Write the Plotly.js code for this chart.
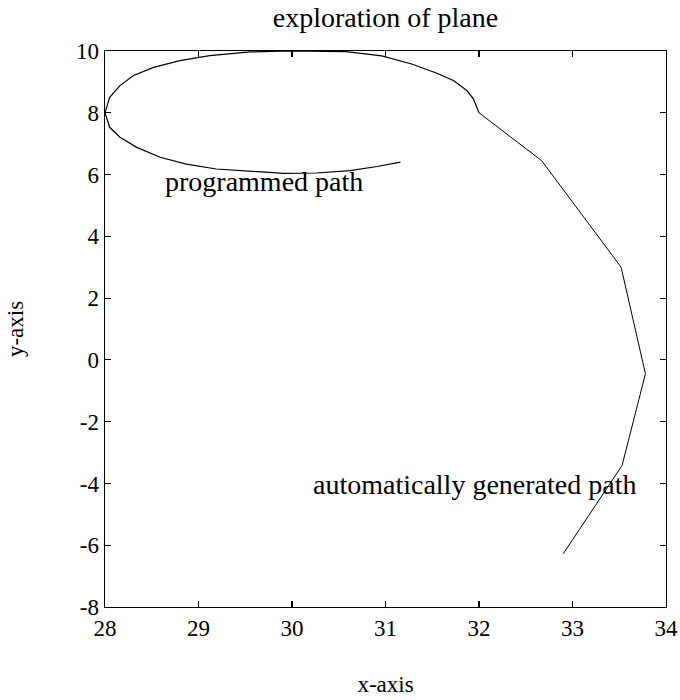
<!DOCTYPE html>
<html>
<head>
<meta charset="utf-8">
<script src="https://cdn.plot.ly/plotly-3.0.1.min.js"></script>
<style>html,body{margin:0;padding:0;background:#fff;}#chart{width:680px;height:700px;}</style>
</head>
<body>
<div id="chart"></div>
<script>
// Programmed path (spiral-like loop)
var progX = [31.16, 30.91, 30.62, 30.26, 29.91, 29.60, 29.19, 28.87, 28.59, 28.34, 28.16, 28.05, 28.00,
             28.05, 28.16, 28.30, 28.52, 28.80, 29.12, 29.55, 29.98, 30.58, 30.96, 31.28, 31.55, 31.73,
             31.87, 31.94, 32.00];
var progY = [6.40, 6.26, 6.13, 6.05, 6.04, 6.09, 6.18, 6.34, 6.56, 6.88, 7.21, 7.53, 8.00,
             8.50, 8.88, 9.20, 9.47, 9.69, 9.85, 9.97, 10.00, 9.98, 9.84, 9.58, 9.28, 9.04,
             8.72, 8.45, 8.00];
// Automatically generated path
var autoX = [32.00, 32.67, 33.52, 33.78, 33.53, 32.90];
var autoY = [8.00, 6.45, 3.00, -0.45, -3.42, -6.28];

var xTicks = [28, 29, 30, 31, 32, 33, 34];
var yTicks = [-8, -6, -4, -2, 0, 2, 4, 6, 8, 10];

var titleText = "exploration of plane";
var xTitle = "x-axis";
var yTitle = "y-axis";
var labelProg = "programmed path";
var labelAuto = "automatically generated path";

var FONT = "Liberation Serif, Times New Roman, serif";

var traces = [
  {x: progX, y: progY, mode: "lines", line: {color: "#000", width: 1.2}, hoverinfo: "skip"},
  {x: autoX, y: autoY, mode: "lines", line: {color: "#000", width: 1.0}, hoverinfo: "skip"}
];

var axisCommon = {
  showgrid: false, zeroline: false, showline: true, mirror: "ticks",
  linecolor: "#000", linewidth: 1.4, ticks: "inside", ticklen: 6, tickwidth: 1.2,
  tickcolor: "#000", tickfont: {family: FONT, size: 23, color: "#000"}
};

var layout = {
  width: 680, height: 700,
  margin: {l: 105, r: 14, t: 51, b: 93},
  paper_bgcolor: "#fff", plot_bgcolor: "#fff",
  showlegend: false,
  font: {family: FONT, color: "#000"},
  title: {text: titleText, font: {family: FONT, size: 28, color: "#000"},
          xref: "paper", x: 0.5, xanchor: "center", yref: "container", y: 0.975, yanchor: "middle"},
  xaxis: Object.assign({}, axisCommon, {
    range: [28, 34], tickvals: xTicks, ticktext: xTicks.map(String),
    title: {text: xTitle, font: {family: FONT, size: 23, color: "#000"}, standoff: 36}
  }),
  yaxis: Object.assign({}, axisCommon, {
    range: [-8, 10], tickvals: yTicks, ticktext: yTicks.map(String),
    title: {text: yTitle, font: {family: FONT, size: 23, color: "#000"}, standoff: 46}
  }),
  annotations: [
    {x: 29.70, y: 5.76, xref: "x", yref: "y", text: labelProg, showarrow: false,
     xanchor: "center", yanchor: "middle", font: {family: FONT, size: 28, color: "#000"}},
    {x: 31.95, y: -4.04, xref: "x", yref: "y", text: labelAuto, showarrow: false,
     xanchor: "center", yanchor: "middle", font: {family: FONT, size: 28, color: "#000"}}
  ]
};

Plotly.newPlot("chart", traces, layout, {staticPlot: true, displayModeBar: false});
</script>
</body>
</html>
